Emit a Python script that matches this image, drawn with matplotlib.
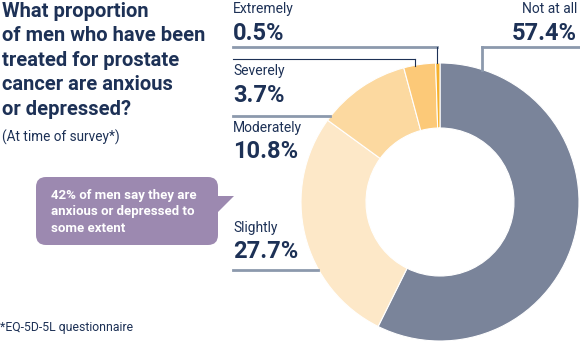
import matplotlib.pyplot as plt
from matplotlib.patches import FancyBboxPatch, Polygon

plt.rcParams['font.family'] = ['Roboto', 'DejaVu Sans']

# Datos
categorias = ["Not at all", "Slightly", "Moderately", "Severely", "Extremely"]
valores = [57.4, 27.7, 10.8, 3.7, 0.5]
colores = ["#7a849a", "#fde8c8", "#fcd9a0", "#fcc978", "#f5b12e"]

titulo = "What proportion\nof men who have been\ntreated for prostate\ncancer are anxious\nor depressed?"
subtitulo = "(At time of survey*)"
nota = "42% of men say they are\nanxious or depressed to\nsome extent"
pie_nota = "*EQ-5D-5L questionnaire"

navy = "#1d3156"
gris = "#8c99ad"
H = 348

def Y(y):
    # coordenadas de imagen (y hacia abajo) -> datos
    return H - y

fig = plt.figure(figsize=(5.8, 3.48), dpi=100)
ax = fig.add_axes([0, 0, 1, 1])

# Donut
ax.pie(valores, colors=colores, startangle=90, counterclock=False,
       center=(440, Y(202)), radius=139,
       wedgeprops=dict(width=65, edgecolor="white", linewidth=0.8))
ax.set_xlim(0, 580)
ax.set_ylim(0, H)
ax.set_aspect('auto')
ax.axis('off')

# Titulo
ax.text(2, Y(2), titulo, fontsize=14.5, fontweight='bold', color=navy,
        va='top', ha='left', linespacing=1.36)
ax.text(2, Y(137), subtitulo, fontsize=9.8, color=navy, va='center', ha='left')
ax.text(0, Y(327), pie_nota, fontsize=8.8, color=navy, va='center', ha='left')

# Etiquetas
etiquetas = {
    "Extremely": (233, 9, 'left'),
    "Severely": (233, 71, 'left'),
    "Moderately": (233, 128, 'left'),
    "Slightly": (233, 228, 'left'),
    "Not at all": (577, 9, 'right'),
}
for cat, val in zip(categorias, valores):
    x, y, ha = etiquetas[cat]
    ax.text(x, Y(y), cat, fontsize=10, color=navy, va='center', ha=ha)
    ax.text(x, Y(y + 24), f"{val}%", fontsize=17, fontweight='bold',
            color=navy, va='center', ha=ha)

# Lineas guia
ax.plot([233, 437], [Y(47), Y(47)], color=gris, lw=2)
ax.plot([437, 437], [Y(47), Y(63)], color=navy, lw=0.8)
ax.plot([233, 415], [Y(59), Y(59)], color=navy, lw=0.8)
ax.plot([415, 415], [Y(59), Y(66)], color=navy, lw=0.8)
ax.plot([233, 330], [Y(116), Y(116)], color=gris, lw=2)
ax.plot([233, 318], [Y(270), Y(270)], color=gris, lw=2)
ax.plot([482, 580], [Y(47), Y(47)], color=gris, lw=2)
ax.plot([482, 482], [Y(47), Y(70)], color=gris, lw=2)

# Bocadillo
morado = "#9c89b0"
caja = FancyBboxPatch((36, Y(245)), 182, 68, boxstyle="round,pad=0,rounding_size=10",
                      facecolor=morado, edgecolor='none')
ax.add_patch(caja)
ax.add_patch(Polygon([(216, Y(196)), (234, Y(196)), (216, Y(214))],
                     closed=True, facecolor=morado, edgecolor='none'))
ax.text(51, Y(212), nota, fontsize=9.5, fontweight='bold', color='white',
        va='center', ha='left', linespacing=1.3)

plt.savefig("out.png", dpi=100)
plt.close()
